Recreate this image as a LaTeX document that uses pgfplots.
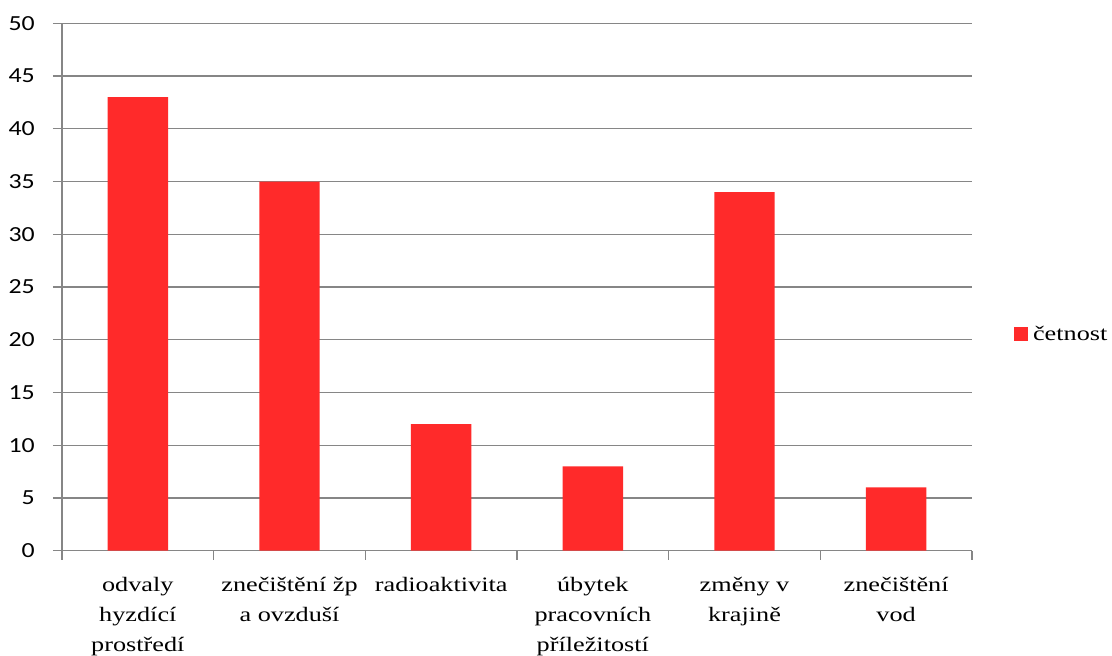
\documentclass[border=0pt]{standalone}
\usepackage{fontspec}
\setmainfont{Liberation Serif}
\newfontfamily\calib{Carlito}
\usepackage{graphicx}
\usepackage{pgfplots}
\pgfplotsset{compat=1.18}
\definecolor{barred}{RGB}{255,42,42}
\definecolor{gridgray}{RGB}{134,134,134}
\begin{document}
\begin{tikzpicture}
\useasboundingbox (-62pt,-105.3pt) rectangle (1050pt,550.7pt);
\begin{axis}[
  scale only axis,
  width=910pt, height=527.4pt,
  ybar, bar width=60.4pt,
  xmin=-0.5, xmax=5.5,
  ymin=0, ymax=50,
  ytick={0,5,...,50},
  xtick={0,1,2,3,4,5},
  xticklabels={{odvaly\\hyzdící\\prostředí},{znečištění žp\\a ovzduší},{radioaktivita},{úbytek\\pracovních\\příležitostí},{změny v\\krajině},{znečištění\\vod}},
  minor xtick={-0.5,0.5,...,5.5},
  axis lines*=left,
  axis line style={gridgray, line width=1.2pt},
  ymajorgrids,
  major grid style={gridgray, line width=1.2pt},
  tick align=outside,
  tick style={gridgray, line width=1.2pt},
  xtick style={draw=none},
  minor x tick style={draw=gridgray},
  minor tick length=9pt,
  major tick length=9pt,
  /pgf/number format/assume math mode=true,
  yticklabel style={font=\calib\fontsize{21.5}{21.5}\selectfont, anchor=east, xshift=-14pt, xscale=1.2},
  xticklabel style={font=\fontsize{20.5}{30}\selectfont, align=center, anchor=north, yshift=-14pt, xscale=1.28},
  legend style={at={(1.046,0.411)}, anchor=west, draw=none, fill=none, font=\fontsize{20.5}{26}\selectfont, inner sep=0pt},
  legend image code/.code={\fill[barred] (0pt,-7pt) rectangle (14pt,7pt);},
]
\addplot[fill=barred, draw=none] coordinates {(0,43) (1,35) (2,12) (3,8) (4,34) (5,6)};
\addlegendentry{\hspace{3pt}\scalebox{1.28}[1]{četnost}}
\end{axis}
\end{tikzpicture}
\end{document}
